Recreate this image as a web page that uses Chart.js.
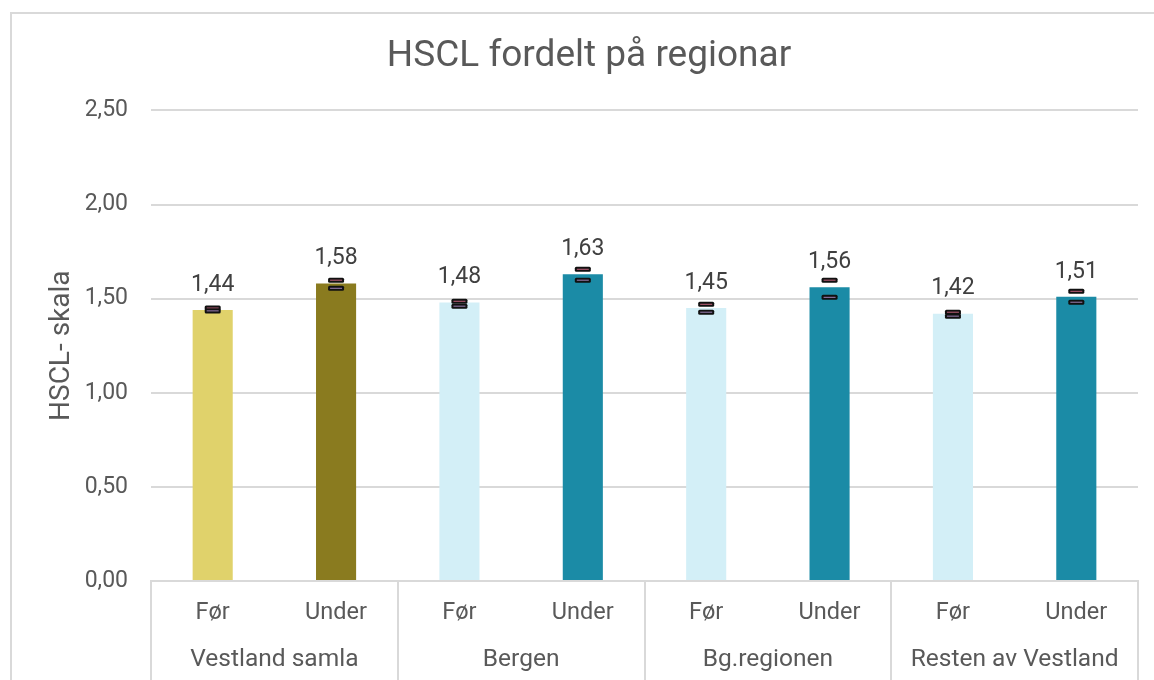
<!DOCTYPE html>
<html>
<head>
<meta charset="utf-8">
<script src="https://cdn.jsdelivr.net/npm/chart.js@4.4.1/dist/chart.umd.min.js"></script>
<style>
  html, body { margin: 0; padding: 0; background: #fff; overflow: hidden; }
  #frame { position: absolute; left: 10px; top: 12px; width: 2000px; height: 2000px;
           border-left: 2px solid #d9d9d9; border-top: 2px solid #d9d9d9; }
  #wrap { position: absolute; left: 0; top: 0; width: 1154px; height: 680px; }
</style>
</head>
<body>
<div id="frame"></div>
<div id="wrap"><canvas id="mycanvas" width="1154" height="680"></canvas></div>
<script>
var groups = ['Vestland samla', 'Bergen', 'Bg.regionen', 'Resten av Vestland'];
var periods = ['Før', 'Under', 'Før', 'Under', 'Før', 'Under', 'Før', 'Under'];
var means = [1.44, 1.58, 1.48, 1.63, 1.45, 1.56, 1.42, 1.51];
var errLow = [1.435, 1.555, 1.460, 1.598, 1.428, 1.507, 1.407, 1.481];
var errHigh = [1.450, 1.598, 1.486, 1.656, 1.470, 1.598, 1.428, 1.539];
var barColors = ['#e0d26b', '#8a7b1f', '#d3eff7', '#1b8ba6', '#d3eff7', '#1b8ba6', '#d3eff7', '#1b8ba6'];

function fmt(v) {
	return v.toFixed(2).replace('.', ',');
}

// error caps, value labels and group separators
var extras = {
	id: 'extras',
	afterDatasetsDraw: function(chart) {
		var ctx = chart.ctx;
		var y = chart.scales.y;
		var x = chart.scales.x;
		var meta = chart.getDatasetMeta(0);
		ctx.save();
		for (var i = 0; i < means.length; i++) {
			var bx = meta.data[i].x;
			var caps = [[errHigh[i], '#c0607a'], [errLow[i], '#9c7fb3']];
			for (var c = 0; c < caps.length; c++) {
				var py = y.getPixelForValue(caps[c][0]);
				ctx.fillStyle = '#111';
				ctx.beginPath();
				ctx.roundRect(bx - 8, py - 2.5, 16, 5, 1.5);
				ctx.fill();
				ctx.fillStyle = caps[c][1];
				ctx.fillRect(bx - 6, py - 0.5, 12, 1);
			}
			ctx.fillStyle = '#404040';
			ctx.font = '23px Roboto';
			ctx.textAlign = 'center';
			ctx.textBaseline = 'middle';
			ctx.fillText(fmt(means[i]), bx, meta.data[i].y - 25);
		}
		// group separators
		ctx.strokeStyle = '#d9d9d9';
		ctx.lineWidth = 2;
		var step = (x.right - x.left) / groups.length;
		for (var g = 0; g <= groups.length; g++) {
			var gx = Math.round(x.left + g * step);
			ctx.beginPath();
			ctx.moveTo(gx, chart.chartArea.bottom);
			ctx.lineTo(gx, chart.height);
			ctx.stroke();
		}
		ctx.restore();
	}
};

var chartdata = {
	labels: periods,
	datasets: [
		{
			label: 'HSCL',
			backgroundColor: barColors,
			data: means,
			categoryPercentage: 1,
			barPercentage: 0.325
		}
	]
};

var ctx = document.getElementById('mycanvas');

var barGraph = new Chart(ctx, {
	type: 'bar',
	data: chartdata,
	plugins: [extras],
	options: {
		responsive: false,
		animation: false,
		layout: { padding: { left: 40, right: 16, top: 0, bottom: 0 } },
		plugins: {
			legend: { display: false },
			tooltip: { enabled: false },
			title: {
				display: true,
				text: 'HSCL fordelt på regionar',
				color: '#595959',
				font: { family: 'Roboto', size: 37, weight: 'normal' },
				padding: { top: 35, bottom: 31 }
			}
		},
		scales: {
			y: {
				min: 0,
				max: 2.5,
				afterFit: function(scale) { scale.width = 111; },
				ticks: {
					stepSize: 0.5,
					padding: 23,
					color: '#595959',
					font: { family: 'Roboto', size: 23 },
					callback: function(v) { return fmt(v); }
				},
				grid: { color: '#d9d9d9', lineWidth: 2, drawTicks: false },
				border: { display: false },
				title: {
					display: true,
					text: 'HSCL- skala',
					color: '#595959',
					font: { family: 'Roboto', size: 28 },
					padding: { top: 5, bottom: 0 }
				}
			},
			x: {
				afterFit: function(scale) { scale.height = 54; },
				ticks: {
					padding: 18,
					color: '#595959',
					font: { family: 'Roboto', size: 23.5 },
					maxRotation: 0,
					autoSkip: false
				},
				grid: { display: false, drawTicks: false },
				border: { display: true, color: '#d9d9d9', width: 2 }
			},
			x2: {
				type: 'category',
				position: 'bottom',
				labels: groups,
				afterFit: function(scale) { scale.height = 45; },
				ticks: {
					padding: 10,
					color: '#595959',
					font: { family: 'Roboto', size: 24.5 },
					maxRotation: 0,
					autoSkip: false
				},
				grid: { display: false, drawTicks: false },
				border: { display: false }
			}
		}
	}
});
</script>
</body>
</html>
